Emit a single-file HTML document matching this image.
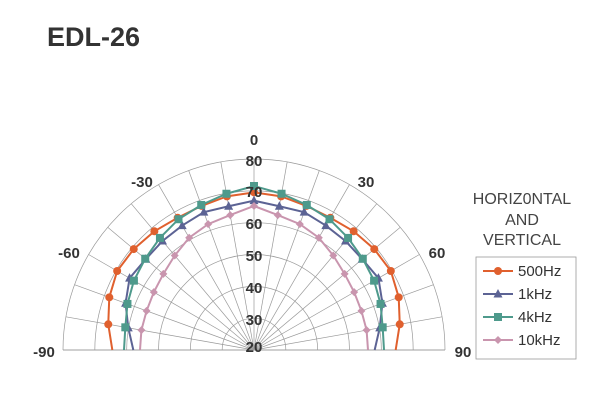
<!DOCTYPE html>
<html><head><meta charset="utf-8"><style>
body{margin:0;background:#fff;width:600px;height:405px;overflow:hidden;font-family:"Liberation Sans",Arial,sans-serif}
</style></head><body>
<svg id="s" width="600" height="405" xmlns="http://www.w3.org/2000/svg" font-family="Liberation Sans, Arial, sans-serif">
<text x="47" y="46" font-size="27" font-weight="bold" fill="#333">EDL-26</text>
<g id="grid" stroke="#999" stroke-width="0.7" fill="none"></g>
<g id="series"></g>
<g font-weight="bold" font-size="15" fill="#333" text-anchor="middle">
<text x="254" y="145">0</text>
<text x="142" y="187">-30</text>
<text x="366" y="187">30</text>
<text x="69" y="258">-60</text>
<text x="437" y="258">60</text>
<text x="44" y="357">-90</text>
<text x="463" y="357">90</text>
<text x="254" y="166">80</text>
<text x="254" y="197">70</text>
<text x="254" y="229">60</text>
<text x="254" y="261">50</text>
<text x="254" y="293">40</text>
<text x="254" y="325">30</text>
<text x="254" y="352">20</text>
</g>
<g font-size="16" fill="#444" text-anchor="middle">
<text x="522" y="204">HORIZ0NTAL</text>
<text x="522" y="225">AND</text>
<text x="522" y="245">VERTICAL</text>
</g>
<rect x="476" y="257" width="100" height="102" fill="none" stroke="#999" stroke-width="0.8"/>
<g id="leg" font-size="15" fill="#333"></g>
</svg>
<script>
var cx=254,cy=350,R=191,ns="http://www.w3.org/2000/svg";
function el(t,a,p){var e=document.createElementNS(ns,t);for(var k in a)e.setAttribute(k,a[k]);p.appendChild(e);return e;}
var g=document.getElementById('grid');
for(var i=1;i<=6;i++){var r=R*i/6;el('path',{d:'M'+(cx-r)+' '+cy+' A'+r+' '+r+' 0 0 1 '+(cx+r)+' '+cy},g);}
for(var a=-90;a<=90;a+=10){var t=a*Math.PI/180;el('line',{x1:cx,y1:cy,x2:cx+R*Math.sin(t),y2:cy-R*Math.cos(t)},g);}
el('line',{x1:cx-R,y1:cy,x2:cx+R,y2:cy},g);
var S=[
 {c:'#E0602E',m:'c',r:[473,468,460,458,465,471,474,462,444,425]},
 {c:'#5C6394',m:'t',r:[448,438,440,431,427,424,431,410,383,362]},
 {c:'#4E9A8C',m:'s',r:[492,476,463,453,439,426,416,404,392,390]},
 {c:'#C995AE',m:'d',r:[432,411,402,389,370,355,347,343,343,342]}];
var sg=document.getElementById('series');
function mk(m,x,y,c,p,sz){sz=sz||1;
 if(m=='c')el('circle',{cx:x,cy:y,r:4*sz,fill:c},p);
 else if(m=='t')el('polygon',{points:(x)+','+(y-5*sz)+' '+(x-4.5*sz)+','+(y+3.5*sz)+' '+(x+4.5*sz)+','+(y+3.5*sz),fill:c},p);
 else if(m=='s')el('rect',{x:x-4*sz,y:y-4*sz,width:8*sz,height:8*sz,fill:c},p);
 else el('polygon',{points:x+','+(y-4*sz)+' '+(x+4*sz)+','+y+' '+x+','+(y+4*sz)+' '+(x-4*sz)+','+y,fill:c},p);}
S.forEach(function(s){var pts=[];
 for(var a=-90;a<=90;a+=10){var r=s.r[Math.abs(a)/10]/3,t=a*Math.PI/180;pts.push([cx+r*Math.sin(t),cy-r*Math.cos(t),a]);}
 el('polyline',{points:pts.map(function(p){return p[0]+','+p[1]}).join(' '),fill:'none',stroke:s.c,'stroke-width':2},sg);
 pts.forEach(function(p){if(Math.abs(p[2])<90)mk(s.m,p[0],p[1],s.c,sg);});});
var lg=document.getElementById('leg'),names=['500Hz','1kHz','4kHz','10kHz'];
S.forEach(function(s,i){var y=271+i*23;
 el('line',{x1:483,y1:y,x2:513,y2:y,stroke:s.c,'stroke-width':2},lg);mk(s.m,498,y,s.c,lg);
 var t=el('text',{x:518,y:y+5},lg);t.textContent=names[i];});
</script>
</body></html>
